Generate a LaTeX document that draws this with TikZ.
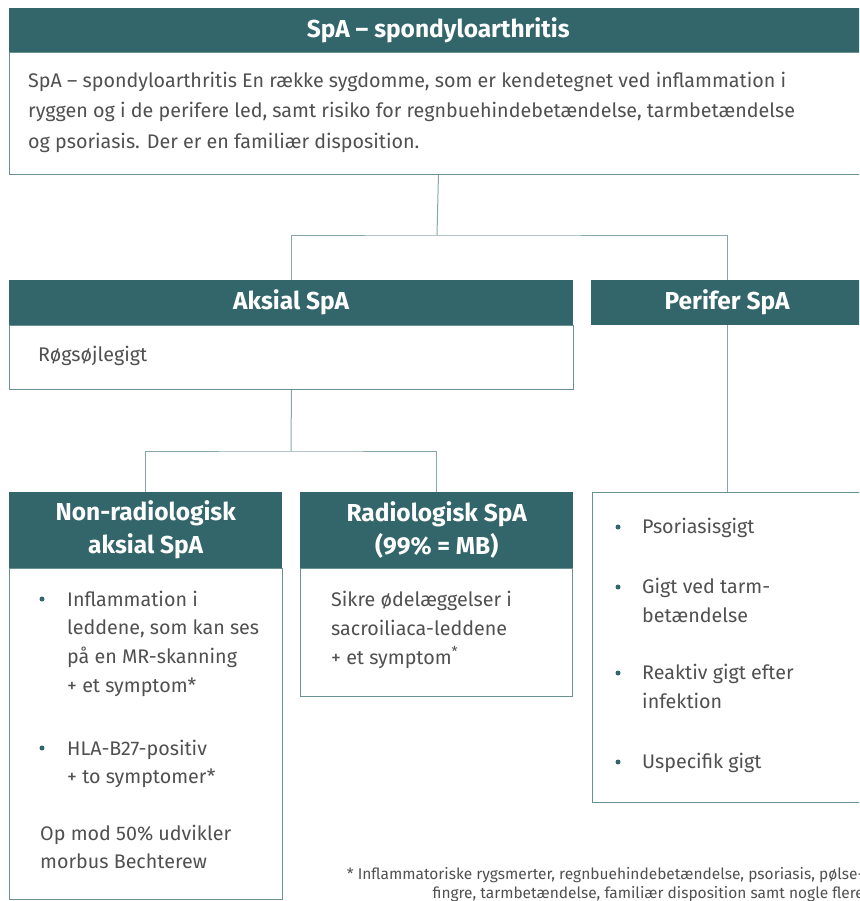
\documentclass[tikz,border=0pt]{standalone}
\usepackage{fontspec}
\setmainfont{Fira Sans}
\definecolor{spateal}{HTML}{33666A}
\definecolor{spaline}{HTML}{6A9094}
\definecolor{spaconn}{HTML}{88A6A9}
\definecolor{spatext}{HTML}{505050}
\begin{document}
\begin{tikzpicture}[x=1pt,y=-1pt]
	 \tikzstyle{every node}+=[inner sep=0pt]
	 \tikzstyle{head}=[fill=spateal, text=white, anchor=north west, align=center, font=\bfseries\fontsize{24.5}{33}\selectfont]
	 \tikzstyle{box}=[draw=spaline, line width=0.9pt, fill=white, anchor=north west]
	 \tikzstyle{txt}=[text=spatext, anchor=north west, align=left, font=\fontsize{19.7}{28.8}\selectfont]
	 \tikzstyle{dot}=[circle, fill=spateal, minimum size=5pt]
	 \tikzstyle{conn}=[draw=spaconn, line width=1pt]
	 \useasboundingbox (0,0) rectangle (859,901);
	 \clip (0,0) rectangle (859,901);
	 \node [head, minimum width=858, minimum height=44] (toph) at (9,8) {SpA – spondyloarthritis};
	 \node [box, minimum width=858, minimum height=122] (topb) at (9,52) {};
	 \node [txt, font=\fontsize{19.7}{30.5}\selectfont] (topt) at (28,71.5) {SpA – spondyloarthritis En række sygdomme, som er kendetegnet ved inflammation i\\ryggen og i de perifere led, samt risiko for regnbuehindebetændelse, tarmbetændelse\\og psoriasis. Der er en familiær disposition.};
	 \node [head, minimum width=564, minimum height=45] (aksh) at (9,280) {Aksial SpA};
	 \node [box, minimum width=564, minimum height=64] (aksb) at (9,325) {};
	 \node [txt] (akst) at (38,346) {Røgsøjlegigt};
	 \node [head, minimum width=272, minimum height=45] (perh) at (591,280) {Perifer SpA};
	 \node [box, minimum width=280, minimum height=310] (perb) at (592,492) {};
	 \node [dot] (pd1) at (618,527) {};
	 \node [txt] (pt1) at (642,518) {Psoriasisgigt};
	 \node [dot] (pd2) at (618,587) {};
	 \node [txt] (pt2) at (642,578) {Gigt ved tarm-\\betændelse};
	 \node [dot] (pd3) at (618,673) {};
	 \node [txt] (pt3) at (642,664) {Reaktiv gigt efter\\infektion};
	 \node [dot] (pd4) at (618,762) {};
	 \node [txt] (pt4) at (642,753) {Uspecifik gigt};
	 \node [head, minimum width=273, minimum height=76] (nrh) at (9,492) {Non-radiologisk\\aksial SpA};
	 \node [box, minimum width=273, minimum height=331] (nrb) at (9,568) {};
	 \node [dot] (nd1) at (42,599) {};
	 \node [txt] (nt1) at (67,590.5) {Inflammation i\\leddene, som kan ses\\på en MR-skanning\\+ et symptom*};
	 \node [dot] (nd2) at (42,748) {};
	 \node [txt] (nt2) at (67,739.5) {HLA-B27-positiv\\+ to symptomer*};
	 \node [txt] (nt3) at (40,824.5) {Op mod 50\% udvikler\\morbus Bechterew};
	 \node [head, minimum width=273, minimum height=76] (rdh) at (300,492) {Radiologisk SpA\\(99\% = MB)};
	 \node [box, minimum width=272, minimum height=128] (rdb) at (300,568) {};
	 \node [txt] (rdt) at (331,591) {Sikre ødelæggelser i\\sacroiliaca-leddene\\+ et symptom\textsuperscript{*}};
	 \node [anchor=north east, align=right, text=spatext, font=\fontsize{15.5}{19}\selectfont] (fn) at (864,867) {* Inflammatoriske rygsmerter, regnbuehindebetændelse, psoriasis, pølse-\\fingre, tarmbetændelse, familiær disposition samt nogle flere};
	 \coordinate (j1) at (437,235);
	 \coordinate (j2) at (291,451);
	 \draw [conn] (topb.south) -- (j1);
	 \draw [conn] (aksh.north) |- (j1) -| (perh.north);
	 \draw [conn] (aksb.south) -- (j2);
	 \draw [conn] (nrh.north) |- (j2) -| (rdh.north);
	 \draw [conn] (perh.south) -- (perh.south |- perb.north);
\end{tikzpicture}
\end{document}
